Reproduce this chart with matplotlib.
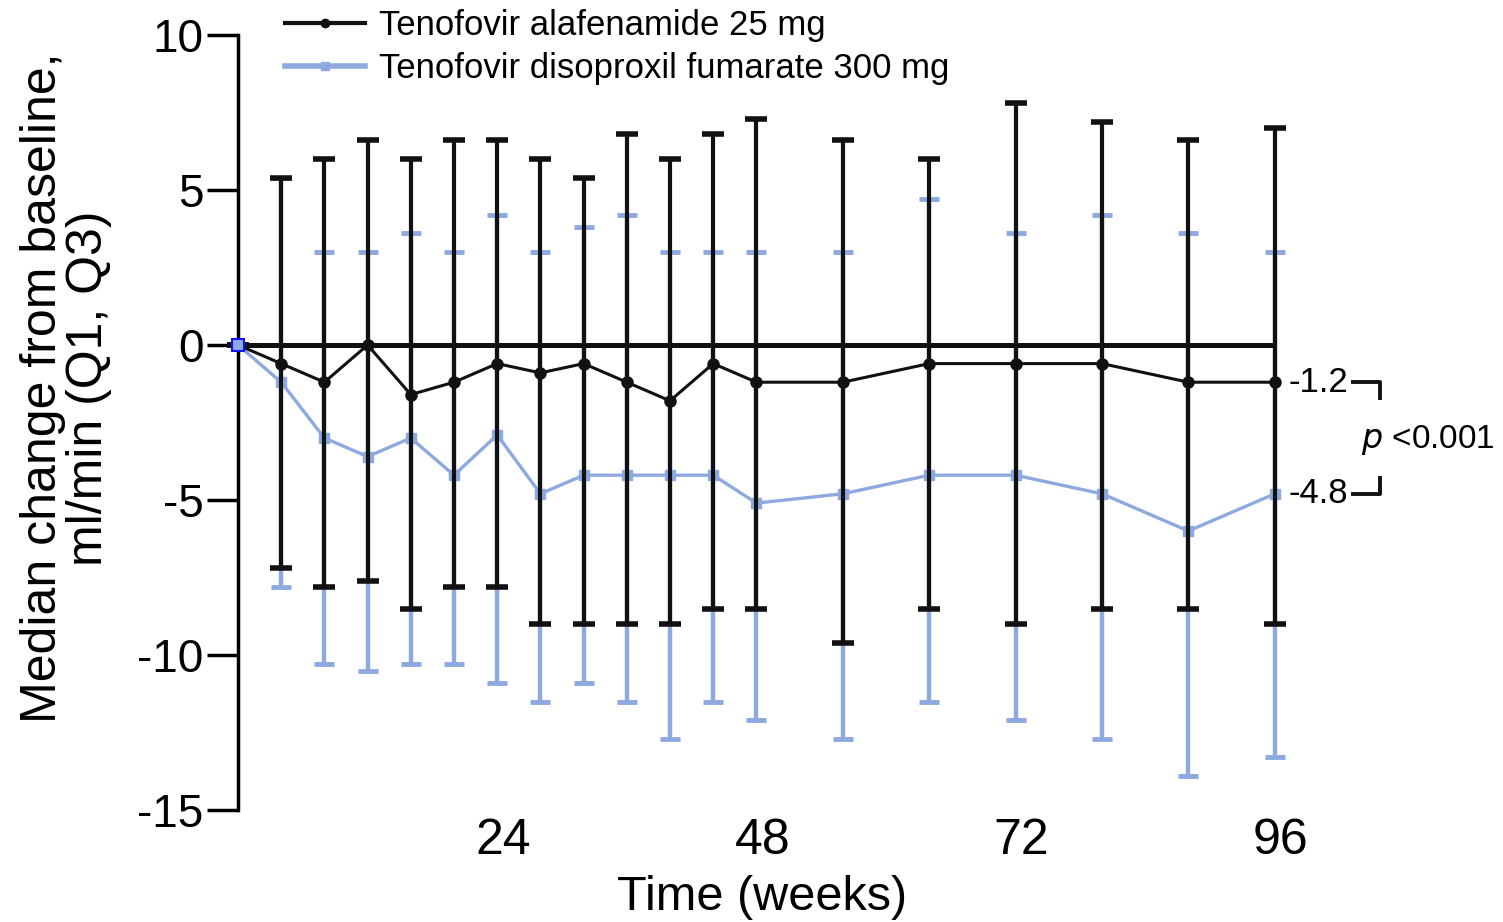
import matplotlib.pyplot as plt
from matplotlib.lines import Line2D
import matplotlib.transforms as mtransforms

plt.rcParams['font.family'] = ['Liberation Sans', 'DejaVu Sans']

# Data
weeks = [0, 4, 8, 12, 16, 20, 24, 28, 32, 36, 40, 44, 48, 56, 64, 72, 80, 88, 96]

taf_med = [0, -0.6, -1.2, 0, -1.6, -1.2, -0.6, -0.9, -0.6, -1.2, -1.8, -0.6, -1.2, -1.2, -0.6, -0.6, -0.6, -1.2, -1.2]
taf_q3 = [0, 5.4, 6.0, 6.6, 6.0, 6.6, 6.6, 6.0, 5.4, 6.8, 6.0, 6.8, 7.3, 6.6, 6.0, 7.8, 7.2, 6.6, 7.0]
taf_q1 = [0, -7.2, -7.8, -7.6, -8.5, -7.8, -7.8, -9.0, -9.0, -9.0, -9.0, -8.5, -8.5, -9.6, -8.5, -9.0, -8.5, -8.5, -9.0]

tdf_med = [0, -1.2, -3.0, -3.6, -3.0, -4.2, -2.9, -4.8, -4.2, -4.2, -4.2, -4.2, -5.1, -4.8, -4.2, -4.2, -4.8, -6.0, -4.8]
tdf_q3 = [0, 5.4, 3.0, 3.0, 3.6, 3.0, 4.2, 3.0, 3.8, 4.2, 3.0, 3.0, 3.0, 3.0, 4.7, 3.6, 4.2, 3.6, 3.0]
tdf_q1 = [0, -7.8, -10.3, -10.5, -10.3, -10.3, -10.9, -11.5, -10.9, -11.5, -12.7, -11.5, -12.1, -12.7, -11.5, -12.1, -12.7, -13.9, -13.3]

taf_label = 'Tenofovir alafenamide 25 mg'
tdf_label = 'Tenofovir disoproxil fumarate 300 mg'
end_taf = -1.2
end_tdf = -4.8

black = '#111111'
blue = '#8DA9E0'

fig = plt.figure(figsize=(15.03, 9.22), dpi=100)
ax = fig.add_axes([238 / 1503, 1 - 810 / 922, (1426 - 238) / 1503, 775 / 922])

# TDF (drawn first, underneath)
tdf_err = [[m - lo for m, lo in zip(tdf_med, tdf_q1)], [hi - m for m, hi in zip(tdf_med, tdf_q3)]]
ax.errorbar(weeks, tdf_med, yerr=tdf_err, color=blue, ecolor=blue, elinewidth=3.2,
            capsize=7, capthick=3.5, lw=2.4, marker='s', ms=7, zorder=2, clip_on=False)
ax.plot(weeks[0], tdf_med[0], 's', color=blue, mec='#1010ff', mew=1.5, ms=9, zorder=6, clip_on=False)

# TAF
taf_err = [[m - lo for m, lo in zip(taf_med, taf_q1)], [hi - m for m, hi in zip(taf_med, taf_q3)]]
ax.errorbar(weeks, taf_med, yerr=taf_err, fmt='none', ecolor=black, elinewidth=3.0,
            capsize=8, capthick=4, zorder=3, clip_on=False)
ax.hlines(0, weeks[0], weeks[-1], color=black, lw=3.6, zorder=4)
ax.plot(weeks, taf_med, '-o', color=black, lw=2.2, ms=8, zorder=5, clip_on=False)

ax.set_xlim(0, 110)
ax.set_ylim(-15, 10)
ax.set_yticks([10, 5, 0, -5, -10, -15])
ax.set_yticklabels(['10', '5', '0', '-5', '-10', '-15'])
ax.set_xticks([24, 48, 72, 96])

for s in ['top', 'right', 'bottom']:
    ax.spines[s].set_visible(False)
ax.spines['left'].set_linewidth(2.5)
ax.tick_params(axis='y', direction='out', length=22, width=2.5, labelsize=33, pad=3)
ax.tick_params(axis='x', length=0, labelsize=36, pad=6)
shift = mtransforms.ScaledTranslation(6 / 100, 0, fig.dpi_scale_trans)
for lab in ax.get_xticklabels():
    lab.set_transform(lab.get_transform() + shift)

ax.set_xlabel('Time (weeks)', fontsize=35, labelpad=0)
ax.xaxis.set_label_coords((762 - 238) / (1426 - 238), -0.084)
ax.set_ylabel('Median change from baseline,\nml/min (Q1, Q3)', fontsize=36, linespacing=1.0)
ax.yaxis.set_label_coords((112 - 238) / (1426 - 238), 1 - (388 - 35) / 775)

# end values and p-value bracket
ax.text(97.3, end_taf, '-1.2', fontsize=25, va='center', ha='left', clip_on=False)
ax.text(97.3, end_tdf, '-4.8', fontsize=25, va='center', ha='left', clip_on=False)
ax.plot([103.2, 105.7, 105.7], [end_taf, end_taf, end_taf - 0.5], color=black, lw=2.8, clip_on=False)
ax.plot([103.2, 105.7, 105.7], [end_tdf, end_tdf, end_tdf + 0.5], color=black, lw=2.8, clip_on=False)
ax.text(104.0, (end_taf + end_tdf) / 2 - 0.05, '$p$ <0.001', fontsize=24, va='center', ha='left', clip_on=False)

# legend
handles = [Line2D([0], [0], color=black, lw=3, marker='o', ms=6),
           Line2D([0], [0], color=blue, lw=4, marker='s', ms=6)]
fig.legend(handles, [taf_label, tdf_label], loc='upper left', bbox_to_anchor=(254 / 1503, 1.024),
           frameon=False, fontsize=25, handlelength=2.3, handletextpad=0.4, labelspacing=0.28)

plt.savefig('out.png', dpi=100)
